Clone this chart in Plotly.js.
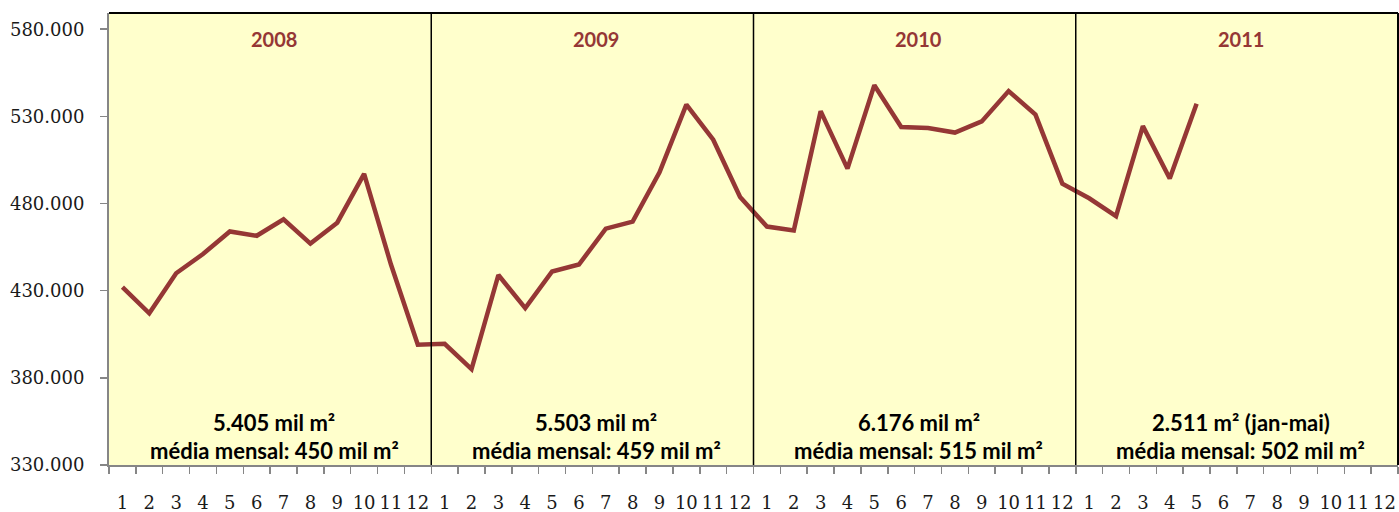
<!DOCTYPE html>
<html>
<head>
<meta charset="utf-8">
<script src="https://cdn.plot.ly/plotly-3.0.1.min.js"></script>
<style>
  html, body { margin: 0; padding: 0; background: #ffffff; }
  #chart { width: 1399px; height: 512px; }
</style>
</head>
<body>
<div id="chart"></div>
<script>
// ---- Data ----
const years = ['2008', '2009', '2010', '2011'];
const months = ['1', '2', '3', '4', '5', '6', '7', '8', '9', '10', '11', '12'];

const values2008 = [432000, 417000, 440000, 451000, 464000, 461500, 471000, 457000, 469000, 497000, 445000, 399000];
const values2009 = [399500, 385000, 439000, 420000, 441000, 445000, 465600, 469600, 497900, 536700, 516600, 483800];
const values2010 = [466800, 464500, 533000, 500000, 547900, 523900, 523300, 520700, 527100, 544500, 531000, 491400];
const values2011 = [483000, 472800, 524400, 494300, 537300];

const yearTotals = ['5.405 mil m²', '5.503 mil m²', '6.176 mil m²', '2.511 m² (jan-mai)'];
const monthlyAverages = ['média mensal: 450 mil m²', 'média mensal: 459 mil m²', 'média mensal: 515 mil m²', 'média mensal: 502 mil m²'];

// ---- Build categories ----
const categories = [];
const tickText = [];
years.forEach(y => months.forEach(m => { categories.push(y + '-' + m); tickText.push(m); }));

const allValues = [].concat(values2008, values2009, values2010, values2011);
const xs = categories.slice(0, allValues.length);

const lineColor = '#953735';
const axisGray = '#868686';

const trace = {
  type: 'scatter',
  mode: 'lines',
  x: xs,
  y: allValues,
  line: { color: lineColor, width: 4.5 },
  hoverinfo: 'x+y'
};

const H = 512, mt = 13, mb = 47;
const plotH = H - mt - mb;
function pyToPaper(py) { return (H - mb - py) / plotH; }

const annotations = [];
years.forEach((y, i) => {
  const cx = i * 12 + 5.65;
  annotations.push({
    x: cx, xref: 'x', y: pyToPaper(39), yref: 'paper', yanchor: 'middle', xanchor: 'center',
    text: '<b>' + y + '</b>', showarrow: false,
    font: { family: 'Lato, "Open Sans", sans-serif', size: 20, color: lineColor }
  });
  annotations.push({
    x: cx, xref: 'x', y: pyToPaper(422), yref: 'paper', yanchor: 'middle', xanchor: 'center',
    text: '<b>' + yearTotals[i] + '</b>', showarrow: false,
    font: { family: 'Lato, "Open Sans", sans-serif', size: 22, color: '#000000' }
  });
  annotations.push({
    x: cx, xref: 'x', y: pyToPaper(450), yref: 'paper', yanchor: 'middle', xanchor: 'center',
    text: '<b>' + monthlyAverages[i] + '</b>', showarrow: false,
    font: { family: 'Lato, "Open Sans", sans-serif', size: 22, color: '#000000' }
  });
});

const shapes = [];
[11.5, 23.5, 35.5].forEach(xv => {
  shapes.push({ type: 'line', xref: 'x', yref: 'paper', x0: xv, x1: xv, y0: 0, y1: 1,
    line: { color: '#000000', width: 1.5 } });
});
// top and right border
shapes.push({ type: 'line', xref: 'paper', yref: 'paper', x0: 0, x1: 1, y0: 1, y1: 1, line: { color: '#000000', width: 2 } });
shapes.push({ type: 'line', xref: 'paper', yref: 'paper', x0: 1, x1: 1, y0: 0, y1: 1, line: { color: '#000000', width: 2 } });

const layout = {
  width: 1399,
  height: 512,
  margin: { l: 109, r: 1, t: mt, b: mb, pad: 0 },
  paper_bgcolor: '#ffffff',
  plot_bgcolor: '#FFFFCC',
  separators: ',.',
  showlegend: false,
  xaxis: {
    type: 'category',
    categoryorder: 'array',
    categoryarray: categories,
    tickmode: 'array',
    tickvals: categories,
    ticktext: tickText,
    tickson: 'boundaries',
    tickangle: 0,
    range: [-0.5, 47.5],
    ticks: 'outside',
    ticklen: 7,
    tickwidth: 1.5,
    tickcolor: axisGray,
    showline: true,
    linecolor: axisGray,
    linewidth: 2,
    showgrid: false,
    zeroline: false,
    ticklabelstandoff: 20,
    tickfont: { family: '"DejaVu Serif", serif', size: 18, color: '#1a1a1a' }
  },
  yaxis: {
    range: [330000, 589300],
    tickmode: 'linear',
    tick0: 330000,
    dtick: 50000,
    tickformat: ',.0f',
    ticks: 'outside',
    ticklen: 7,
    tickwidth: 1.5,
    tickcolor: axisGray,
    showline: true,
    linecolor: axisGray,
    linewidth: 2,
    showgrid: false,
    zeroline: false,
    ticklabelstandoff: 12,
    tickfont: { family: '"DejaVu Serif", serif', size: 18, color: '#1a1a1a' }
  },
  shapes: shapes,
  annotations: annotations
};

Plotly.newPlot('chart', [trace], layout, { displayModeBar: false, staticPlot: true });
</script>
</body>
</html>
